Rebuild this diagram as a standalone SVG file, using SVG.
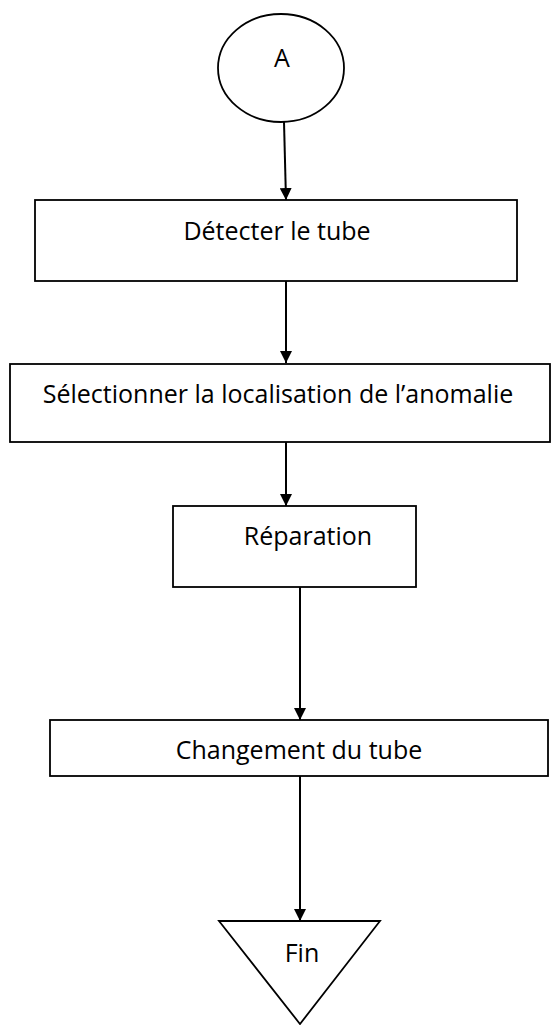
<svg xmlns="http://www.w3.org/2000/svg" width="555" height="1025" viewBox="0 0 555 1025">
<style>
.shape{fill:#fff;stroke:#000;stroke-width:1.8}
.lbl{font-family:"Open Sans","Liberation Sans",sans-serif;font-size:25px;fill:#000;text-anchor:middle}
.conn{stroke:#000;stroke-width:2;fill:none}
</style>
<defs>
<marker id="arr" viewBox="0 0 12 12" refX="12" refY="6" markerWidth="12" markerHeight="12" markerUnits="userSpaceOnUse" orient="auto">
<path d="M0,0 L12,6 L0,12 z" fill="#000"/>
</marker>
</defs>
<rect width="555" height="1025" fill="#fff"/>
<g id="connectors">
<line class="conn" x1="284" y1="122" x2="286" y2="200" marker-end="url(#arr)"/>
<line class="conn" x1="286" y1="281" x2="286" y2="363" marker-end="url(#arr)"/>
<line class="conn" x1="286" y1="442" x2="286" y2="506" marker-end="url(#arr)"/>
<line class="conn" x1="300" y1="587" x2="300" y2="720" marker-end="url(#arr)"/>
<line class="conn" x1="300" y1="776" x2="300" y2="921" marker-end="url(#arr)"/>
</g>
<g id="nodeA">
<ellipse class="shape" cx="281" cy="68" rx="63" ry="54"/>
<text class="lbl" x="282" y="67">A</text>
</g>
<g id="node1">
<rect class="shape" x="35" y="200" width="482" height="81"/>
<text class="lbl" x="277" y="240">Détecter le tube</text>
</g>
<g id="node2">
<rect class="shape" x="10" y="364" width="540" height="78"/>
<text class="lbl" x="278" y="403">Sélectionner la localisation de l’anomalie</text>
</g>
<g id="node3">
<rect class="shape" x="173" y="506" width="243" height="81"/>
<text class="lbl" x="308" y="545">Réparation</text>
</g>
<g id="node4">
<rect class="shape" x="50" y="720" width="498" height="56"/>
<text class="lbl" x="299" y="759">Changement du tube</text>
</g>
<g id="nodeFin">
<path class="shape" d="M219,921 L380,921 L300,1024 Z"/>
<text class="lbl" x="302" y="962">Fin</text>
</g>
</svg>
